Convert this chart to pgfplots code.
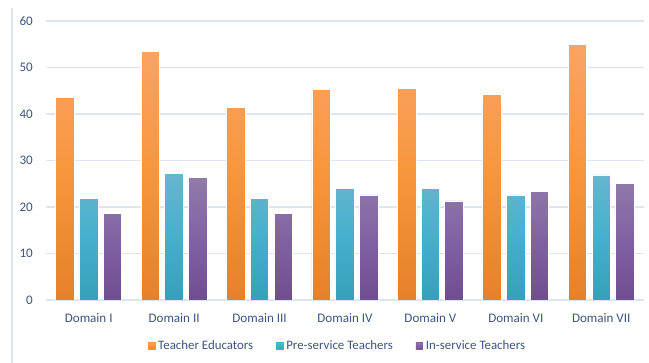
\documentclass[border=0pt]{standalone}
\usepackage{pgfplots}
\pgfplotsset{compat=1.18}
\usepackage{fontspec}
\setmainfont{Carlito}
\definecolor{txtc}{HTML}{3D5580}
\definecolor{gridc}{HTML}{DCE6F2}
\definecolor{bordc}{HTML}{DCE6F2}
\definecolor{orT}{HTML}{F9A467}
\definecolor{orM}{HTML}{F7963C}
\definecolor{orB}{HTML}{E4812A}
\definecolor{tlT}{HTML}{67B6CE}
\definecolor{tlM}{HTML}{46B0CC}
\definecolor{tlB}{HTML}{35A0B9}
\definecolor{puT}{HTML}{927BAA}
\definecolor{puM}{HTML}{8062A2}
\definecolor{puB}{HTML}{6F4E8F}
\begin{document}
\begin{tikzpicture}
\path[use as bounding box] (0,0) rectangle (486.75pt,272.25pt);
\draw[bordc, line width=1.3pt] (9pt,0) -- (9pt,266.25pt);
\begin{axis}[
  at={(34.5pt,47.25pt)}, anchor=south west,
  scale only axis, width=448.5pt, height=209.25pt,
  ybar=3.9pt, bar width=13.9pt,
  xmin=-0.5, xmax=6.5, ymin=0, ymax=60,
  ytick={0,10,...,60},
  xtick=data,
  xticklabels={Domain I,Domain II,Domain III,Domain IV,Domain V,Domain VI,Domain VII},
  axis line style={draw=none},
  major tick length=0pt,
  ymajorgrids, grid style={gridc, line width=1pt},
  /pgf/number format/assume math mode=true,
  tick label style={font=\fontsize{9.8}{11.6}\selectfont, text=txtc},
  yticklabel style={xshift=-6.4pt},
  xticklabel style={yshift=-6.5pt},
  legend style={at={(axis description cs:0.488,-0.164)}, anchor=center, draw=none, fill=none,
    font=\fontsize{9.66}{11.6}\selectfont, text=txtc, legend columns=-1,
    /tikz/every even column/.append style={column sep=15pt},
    inner sep=0pt},
  legend cell align=left,
]
\addplot[draw=white, line width=0.6pt, top color=orT, bottom color=orB, middle color=orM,
  legend image code/.code={\fill[orM] (0pt,-2.6pt) rectangle (5.2pt,2.6pt);}]
  coordinates {(0,43.6) (1,53.4) (2,41.5) (3,45.2) (4,45.5) (5,44.2) (6,55.0)};
\addlegendentry{Teacher Educators}
\addplot[draw=white, line width=0.6pt, top color=tlT, bottom color=tlB, middle color=tlM,
  legend image code/.code={\fill[tlM] (0pt,-2.6pt) rectangle (5.2pt,2.6pt);}]
  coordinates {(0,21.9) (1,27.2) (2,21.9) (3,23.9) (4,23.9) (5,22.6) (6,26.9)};
\addlegendentry{Pre-service Teachers}
\addplot[draw=white, line width=0.6pt, top color=puT, bottom color=puB, middle color=puM,
  legend image code/.code={\fill[puM] (0pt,-2.6pt) rectangle (5.2pt,2.6pt);}]
  coordinates {(0,18.6) (1,26.4) (2,18.6) (3,22.6) (4,21.3) (5,23.3) (6,25.0)};
\addlegendentry{In-service Teachers}
\end{axis}
\end{tikzpicture}
\end{document}
